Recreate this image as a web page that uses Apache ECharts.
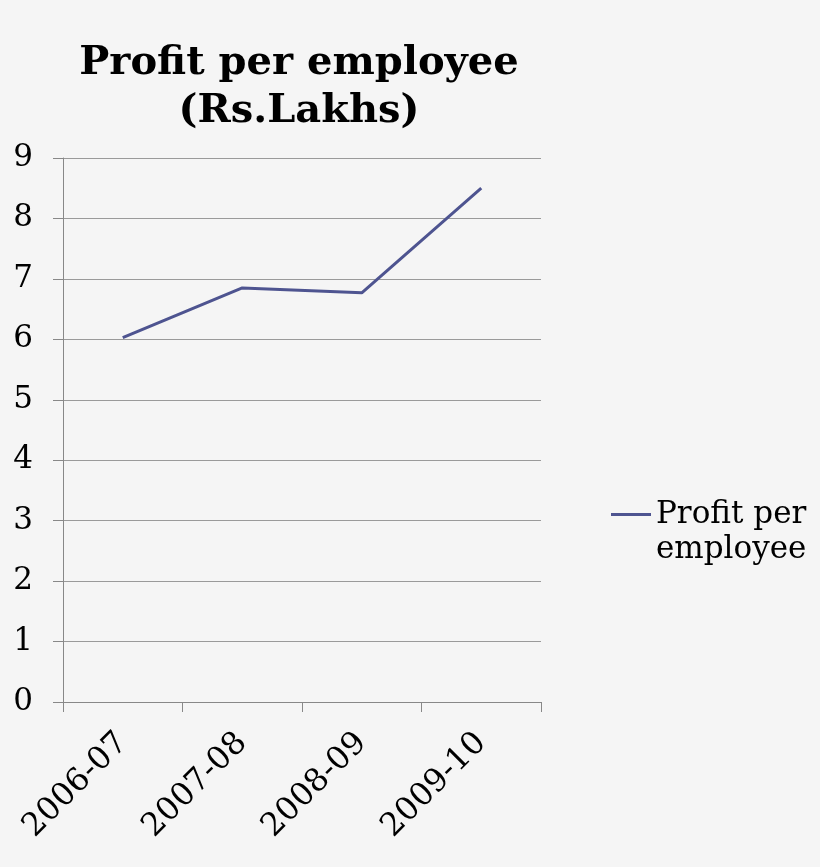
<!DOCTYPE html>
<html><head><meta charset="utf-8">
<script src="https://cdn.jsdelivr.net/npm/echarts@6/dist/echarts.min.js"></script>
<style>html,body{margin:0;padding:0;background:#f5f5f5;}#c{width:820px;height:867px;}</style>
</head><body><div id="c"></div>
<script>
var categories = ['2006-07', '2007-08', '2008-09', '2009-10'];
var profitPerEmployee = [6.03, 6.85, 6.77, 8.5];
var seriesName = 'Profit per employee';
var chart = echarts.init(document.getElementById('c'));
chart.setOption({
  backgroundColor: '#f5f5f5',
  animation: false,
  title: {
    text: 'Profit per employee\n(Rs.Lakhs)',
    left: 294, top: 35, textAlign: 'center',
    textStyle: {fontFamily: 'DejaVu Serif', fontWeight: 'bold', fontSize: 40, lineHeight: 48, color: '#000'}
  },
  legend: {
    data: [seriesName], left: 606, top: 457, orient: 'vertical',
    icon: 'rect', itemWidth: 40, itemHeight: 3, itemGap: 5,
    formatter: function(){ return ' \nProfit per\nemployee'; },
    textStyle: {fontFamily: 'DejaVu Serif', fontSize: 31, lineHeight: 35, color: '#000'}
  },
  grid: {left: 63, right: 279, top: 158, bottom: 165, containLabel: false},
  xAxis: {
    type: 'category', data: categories, boundaryGap: true,
    axisLine: {lineStyle: {color: '#888', width: 1}},
    axisTick: {show: true, length: 10, lineStyle: {color: '#888'}},
    axisLabel: {rotate: 45, margin: 36, fontFamily: 'DejaVu Serif', fontSize: 32, color: '#000'}
  },
  yAxis: {
    type: 'value', min: 0, max: 9, interval: 1,
    axisLine: {show: true, lineStyle: {color: '#888', width: 1}},
    axisTick: {show: true, length: 10, lineStyle: {color: '#888'}},
    splitLine: {lineStyle: {color: '#9a9a9a', width: 1}},
    axisLabel: {margin: 30, fontFamily: 'DejaVu Serif', fontSize: 31, color: '#000'}
  },
  series: [{
    name: seriesName, type: 'line', data: profitPerEmployee,
    symbol: 'none', lineStyle: {color: '#4e5490', width: 3}, itemStyle: {color: '#4e5490'}
  }]
});
</script></body></html>
